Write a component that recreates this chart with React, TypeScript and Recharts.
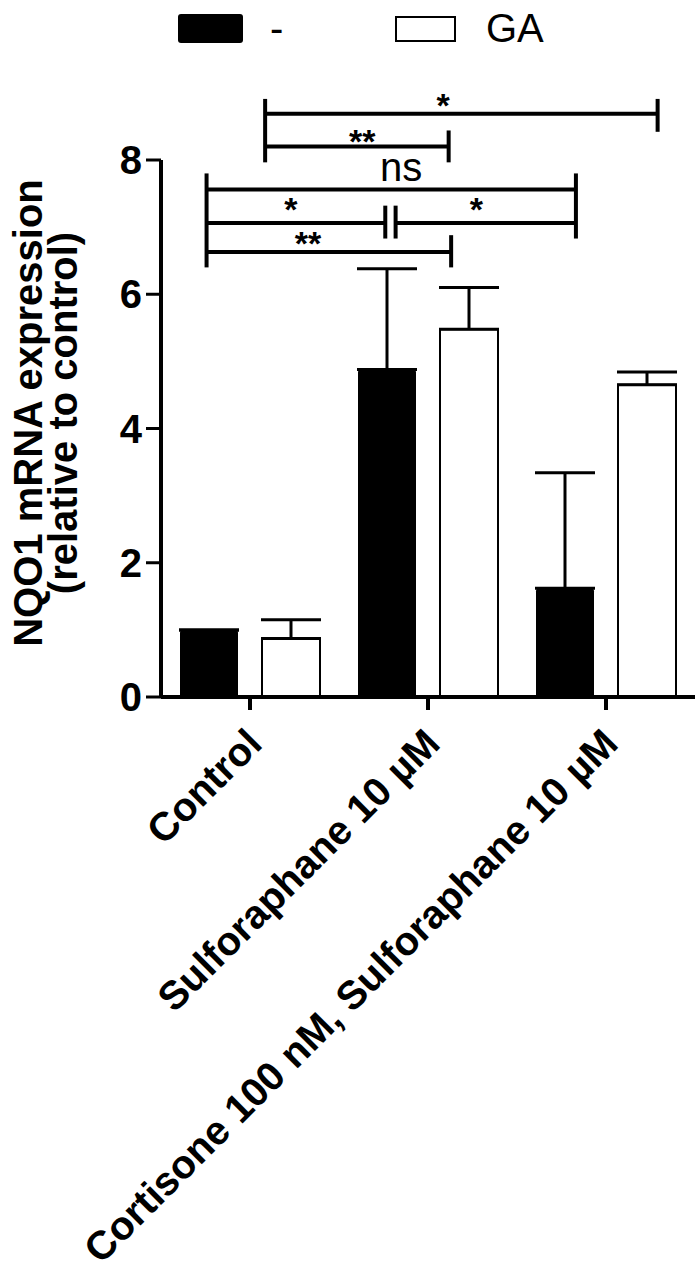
import React from "react";
import {
  BarChart,
  Bar,
  XAxis,
  YAxis,
  ErrorBar,
  Legend,
  ReferenceLine,
  ReferenceDot,
} from "recharts";

// categories + values
const categories = [
  "Control",
  "Sulforaphane 10 µM",
  "Cortisone 100 nM, Sulforaphane 10 µM",
];
const minusValues = [1.0, 4.88, 1.62];
const minusErrors = [0, 1.5, 1.72];
const gaValues = [0.87, 5.48, 4.65];
const gaErrors = [0.28, 0.62, 0.19];
const yTicks = [0, 2, 4, 6, 8];

// significance brackets, x in category units (0..3), y in data units
const bracketLines = [
  [0.585, 8.69, 2.79, 8.69],
  [0.585, 8.2, 1.616, 8.2],
  [0.256, 7.56, 2.331, 7.56],
  [0.256, 7.06, 1.26, 7.06],
  [1.318, 7.06, 2.331, 7.06],
  [0.256, 6.63, 1.63, 6.63],
  [0.585, 8.91, 0.585, 7.965],
  [2.79, 8.91, 2.79, 8.42],
  [1.616, 8.44, 1.616, 7.965],
  [0.256, 7.8, 0.256, 6.4],
  [2.331, 7.8, 2.331, 6.83],
  [1.26, 7.32, 1.26, 6.83],
  [1.318, 7.32, 1.318, 6.83],
  [1.63, 6.88, 1.63, 6.4],
];
const bracketLabels: [string, number, number][] = [
  ["*", 1.585, 8.93],
  ["**", 1.131, 8.38],
  ["ns", 1.349, 7.9],
  ["*", 0.73, 7.37],
  ["*", 1.772, 7.37],
  ["**", 0.826, 6.87],
];

const data = categories.map((name, i) => ({
  name,
  slot: i + 0.5, // category centre on the 0..3 bracket axis
  minus: minusValues[i],
  minusErr: [0, minusErrors[i]],
  ga: gaValues[i],
  gaErr: [0, gaErrors[i]],
}));

const FONT = "'Liberation Sans', Arial, Helvetica, sans-serif";

const XTick = (props: any) => {
  const { x, y, payload } = props;
  const ax = x + 14;
  const ay = y + 34;
  return (
    <text
      x={ax}
      y={ay}
      transform={`rotate(-45, ${ax}, ${ay})`}
      textAnchor="end"
      fontFamily={FONT}
      fontWeight="bold"
      fontSize={40}
      fill="#000"
    >
      {payload.value}
    </text>
  );
};

const YLabel = () => {
  const cy = 413;
  return (
    <g fontFamily={FONT} fontWeight="bold" fontSize={40} fill="#000">
      <text
        x={42}
        y={cy}
        transform={`rotate(-90, 42, ${cy})`}
        textAnchor="middle"
      >
        NQO1 mRNA expression
      </text>
      <text
        x={77}
        y={cy}
        transform={`rotate(-90, 77, ${cy})`}
        textAnchor="middle"
      >
        (relative to control)
      </text>
    </g>
  );
};

const LegendBox = () => (
  <div style={{ position: "relative", height: 0, fontFamily: FONT }}>
    <div
      style={{
        position: "absolute",
        left: 178,
        top: 14,
        width: 65,
        height: 29,
        background: "#000",
        borderRadius: 3,
      }}
    />
    <div style={{ position: "absolute", left: 270, top: 6, fontSize: 40 }}>-</div>
    <div
      style={{
        position: "absolute",
        left: 395,
        top: 16,
        width: 57,
        height: 22,
        border: "2px solid #000",
        background: "#fff",
      }}
    />
    <div style={{ position: "absolute", left: 486, top: 6, fontSize: 40 }}>GA</div>
  </div>
);

const StarLabel = (text: string) => (props: any) => {
  const { viewBox } = props;
  const isNs = text === "ns";
  return (
    <text
      x={viewBox.x}
      y={viewBox.y + (isNs ? 0 : 19)}
      textAnchor="middle"
      dominantBaseline={isNs ? "central" : "auto"}
      fontFamily={FONT}
      fontWeight={isNs ? "normal" : "bold"}
      fontSize={isNs ? 40 : 34}
      fill="#000"
    >
      {text}
    </text>
  );
};

export default function App() {
  return (
    <div style={{ position: "absolute", left: 0, top: 0, background: "#fff" }}>
      <BarChart
        width={695}
        height={1285}
        data={data}
        margin={{ top: 160, right: 0, bottom: 0, left: 0 }}
        barSize={58}
        barGap={24}
      >
        <Legend
          verticalAlign="top"
          content={<LegendBox />}
          wrapperStyle={{ top: 0, left: 0, width: 695, height: 0 }}
        />
        <XAxis
          dataKey="name"
          height={588}
          interval={0}
          tick={<XTick />}
          tickSize={13}
          tickLine={{ stroke: "#000", strokeWidth: 4 }}
          axisLine={{ stroke: "#000", strokeWidth: 4 }}
        />
        <XAxis
          xAxisId="b"
          dataKey="slot"
          type="number"
          domain={[0, 3]}
          allowDataOverflow
          hide
        />
        <YAxis
          width={161}
          domain={[0, 8]}
          ticks={yTicks}
          tickSize={15}
          tickMargin={4}
          tickLine={{ stroke: "#000", strokeWidth: 3 }}
          axisLine={{ stroke: "#000", strokeWidth: 4 }}
          tick={{
            fill: "#000",
            fontSize: 40,
            fontWeight: "bold",
            fontFamily: FONT,
          }}
          label={<YLabel />}
        />
        <Bar
          dataKey="minus"
          name="-"
          fill="#000"
          radius={[3, 3, 0, 0]}
          isAnimationActive={false}
        >
          <ErrorBar
            dataKey="minusErr"
            direction="y"
            width={30}
            stroke="#000"
            strokeWidth={3}
            isAnimationActive={false}
          />
        </Bar>
        <Bar
          dataKey="ga"
          name="GA"
          fill="#fff"
          stroke="#000"
          strokeWidth={2}
          isAnimationActive={false}
        >
          <ErrorBar
            dataKey="gaErr"
            direction="y"
            width={30}
            stroke="#000"
            strokeWidth={3}
            isAnimationActive={false}
          />
        </Bar>
        {bracketLines.map(([x1, y1, x2, y2], i) => (
          <ReferenceLine
            key={`b${i}`}
            xAxisId="b"
            segment={[
              { x: x1, y: y1 },
              { x: x2, y: y2 },
            ]}
            stroke="#000"
            strokeWidth={4}
            ifOverflow="visible"
          />
        ))}
        {bracketLabels.map(([t, x, y], i) => (
          <ReferenceDot
            key={`l${i}`}
            xAxisId="b"
            x={x}
            y={y}
            r={0}
            stroke="none"
            ifOverflow="visible"
            label={StarLabel(t)}
          />
        ))}
      </BarChart>
    </div>
  );
}
